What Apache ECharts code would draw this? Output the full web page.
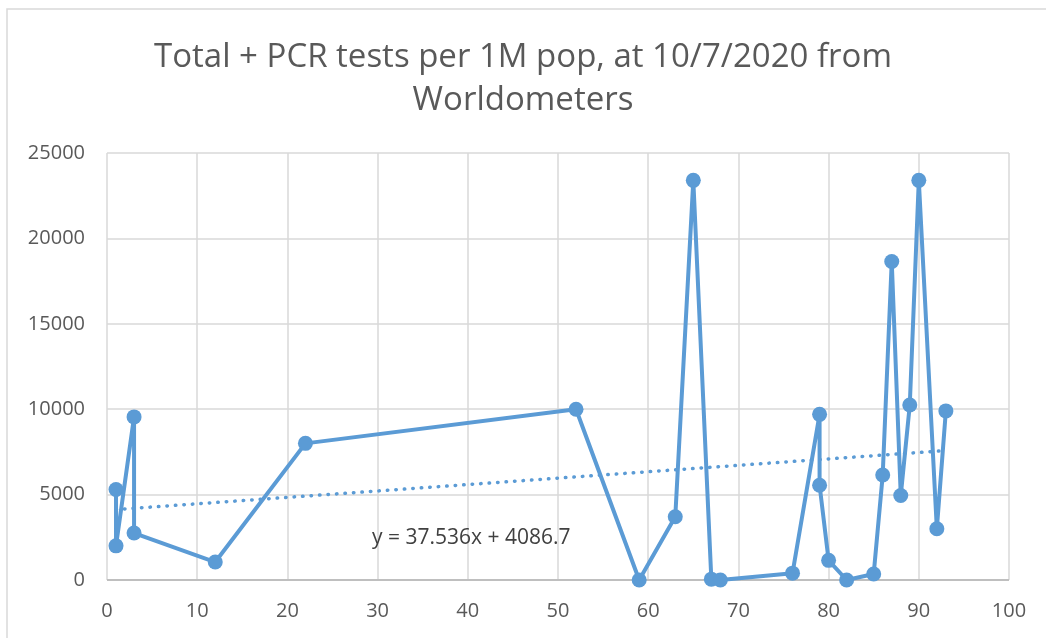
<!DOCTYPE html>
<html>
<head>
<meta charset="utf-8">
<script src="https://cdn.jsdelivr.net/npm/echarts@6/dist/echarts.min.js"></script>
<style>
  html, body { margin: 0; padding: 0; background: #fff; }
  #main { width: 1046px; height: 638px; }
</style>
</head>
<body>
<div id="main"></div>
<script>
// 数据
var xVals = [1, 1, 3, 3, 12, 22, 52, 59, 63, 65, 67, 68, 76, 79, 79, 80, 82, 85, 86, 87, 88, 89, 90, 92, 93];
var yVals = [5300, 2000, 9550, 2750, 1050, 8000, 10000, 0, 3700, 23400, 50, 0, 400, 9700, 5550, 1150, 0, 350, 6150, 18650, 4950, 10250, 23400, 3000, 9900];
// 趋势线 y = 37.536x + 4086.7
var trendSlope = 37.536;
var trendIntercept = 4086.7;
var trendRange = [1, 93];
var titleText = 'Total + PCR tests per 1M pop, at 10/7/2020 from\nWorldometers';
var trendLabel = 'y = 37.536x + 4086.7';

var pts = xVals.map(function (x, i) { return [x, yVals[i]]; });
var trendPts = trendRange.map(function (x) { return [x, trendSlope * x + trendIntercept]; });

var font = 'Open Sans';
var option = {
    animation: false,
    title: {
        text: titleText,
        left: 'center',
        top: 31,
        textStyle: {
            fontFamily: font,
            fontWeight: 'normal',
            fontSize: 33,
            color: '#595959',
            lineHeight: 43
        }
    },
    grid: { left: 107, right: 37, top: 153, bottom: 58 },
    xAxis: {
        type: 'value',
        min: 0, max: 100, interval: 10,
        axisLine: { show: false },
        axisTick: { show: false },
        axisLabel: { color: '#595959', fontSize: 20, fontFamily: font, margin: 21 },
        splitLine: { show: true, lineStyle: { color: '#d9d9d9', width: 1.5 } }
    },
    yAxis: {
        type: 'value',
        min: 0, max: 25000, interval: 5000,
        axisLine: { show: false },
        axisTick: { show: false },
        axisLabel: {
            color: '#595959', fontSize: 20, fontFamily: font, margin: 22,
            formatter: function (v) { return String(v); }
        },
        splitLine: { show: true, lineStyle: { color: '#d9d9d9', width: 1.5 } }
    },
    graphic: [
        {
            type: 'rect',
            shape: { x: 7, y: 9, width: 1100, height: 700 },
            style: { fill: 'none', stroke: '#d9d9d9', lineWidth: 1.5 },
            z: -1
        },
        {
            type: 'line',
            shape: { x1: 107, y1: 580, x2: 1009, y2: 580 },
            style: { stroke: '#bfbfbf', lineWidth: 2 },
            z: 1
        },
        {
            type: 'text',
            left: 372, top: 528,
            style: { text: trendLabel, fill: '#404040', fontSize: 21, fontFamily: font },
            z: 5
        }
    ],
    series: [
        {
            type: 'line',
            data: trendPts,
            symbol: 'none',
            lineStyle: { color: '#5b9bd5', width: 3.5, type: [0.5, 8], cap: 'round' },
            z: 2
        },
        {
            type: 'line',
            data: pts,
            symbol: 'circle',
            symbolSize: 15,
            itemStyle: { color: '#5b9bd5' },
            lineStyle: { color: '#5b9bd5', width: 4 },
            z: 3
        }
    ]
};
var myChart = echarts.init(document.getElementById('main'));
myChart.setOption(option);
</script>
</body>
</html>
